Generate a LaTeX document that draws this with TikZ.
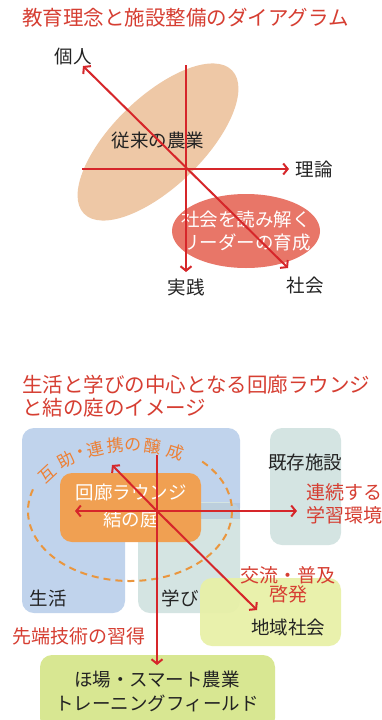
\documentclass[tikz,border=0pt]{standalone}
\usepackage{fontspec}
\setmainfont{Noto Sans CJK JP}
\usetikzlibrary{arrows.meta}
\definecolor{titlered}{RGB}{214,62,50}
\definecolor{arrowred}{RGB}{214,38,42}
\definecolor{tanfill}{RGB}{238,200,166}
\definecolor{salmon}{RGB}{232,118,104}
\definecolor{bluefill}{RGB}{192,211,236}
\definecolor{stripfill}{RGB}{172,194,218}
\definecolor{greyfill}{RGB}{212,228,226}
\definecolor{orangefill}{RGB}{240,160,82}
\definecolor{yellowfill}{RGB}{232,240,166}
\definecolor{greenfill}{RGB}{216,231,146}
\definecolor{dashorange}{RGB}{234,150,62}
\definecolor{txt}{RGB}{35,35,35}
\tikzset{
  x=1pt, y=-1pt,
  axis/.style={draw=arrowred, line width=2pt},
  tip/.style={-{Straight Barb[length=4.5pt,width=11pt]}},
  bothtips/.style={{Straight Barb[length=4.5pt,width=11pt]}-{Straight Barb[length=4.5pt,width=11pt]}},
  lbl/.style={text=txt, font=\fontsize{18.5}{20}\selectfont, inner sep=0pt},
  redlbl/.style={text=titlered, font=\fontsize{19}{23}\selectfont, inner sep=0pt},
  whitelbl/.style={text=white, font=\fontsize{18.5}{23}\selectfont, inner sep=0pt, align=center},
  ttl/.style={text=titlered, font=\fontsize{20.5}{23}\selectfont, inner sep=0pt, anchor=west},
  area/.style={rounded corners=12pt},
}
\begin{document}
\begin{tikzpicture}
\useasboundingbox[fill=white] (0,0) rectangle (382,720);

% ---------- top diagram ----------
\node[ttl] (t1) at (22,18) {教育理念と施設整備のダイアグラム};

\fill[tanfill, rotate around={44:(158,142)}] (158,142) ellipse [x radius=103pt, y radius=45pt];
\fill[salmon] (246,231) ellipse [x radius=74pt, y radius=37pt];

\node[lbl] (trad) at (158,140) {従来の農業};
\node[whitelbl] (leader) at (246,231) {社会を読み解く\\リーダーの育成};

\coordinate (c1) at (186,169);
\coordinate (vtop) at (186,65);
\coordinate (vbot) at (186,272);
\coordinate (hl) at (82,169);
\coordinate (hr) at (289,169);
\coordinate (dtl) at (83,66);
\coordinate (dbr) at (288,268);

\draw[axis] (vtop) -- (c1);
\draw[axis, tip] (c1) -- (vbot);
\draw[axis] (hl) -- (c1);
\draw[axis, tip] (c1) -- (hr);
\draw[axis, bothtips] (dtl) -- (dbr);

\node[lbl] (kojin) at (73,57) {個人};
\node[lbl] (riron) at (314,169) {理論};
\node[lbl] (jissen) at (186,287) {実践};
\node[lbl] (shakai) at (305,285) {社会};

% ---------- bottom diagram ----------
\node[ttl] (t2) at (22,385) {生活と学びの中心となる回廊ラウンジ};
\node[ttl] (t3) at (22,408) {と結の庭のイメージ};

% areas
\fill[bluefill, area] (22,428) -- (240,428) -- (240,520) -- (125,520) -- (125,613) -- (22,613) -- cycle;
\fill[greyfill, area] (138,502) rectangle (240,613);
\fill[stripfill, opacity=0.6] (200,503) rectangle (240,519);
\fill[greyfill, area] (270,428) rectangle (341,545);
\fill[yellowfill, area, opacity=0.92] (200,578) rectangle (341,646);
\fill[greenfill, area] (40,655) rectangle (275,730);
\fill[orangefill, area] (60,473) rectangle (201,542);

% dashed ellipse
\draw[dashorange, line width=2pt, dash pattern=on 7pt off 5pt]
  ([shift={(162:102pt and 70pt)}]130,511) arc [start angle=162, end angle=405, x radius=102pt, y radius=70pt];

% curved text along the ellipse
\foreach \ch/\t [count=\i] in {互/146, 助/130, ・/119.5, 連/110, 携/98.5, の/88, 醸/77, 成/63}{
  \node[text=dashorange!85!red, font=\fontsize{17}{17}\selectfont, inner sep=0pt,
        rotate={atan2(-64*cos(\t), 102*sin(\t))}] (arc\i)
        at ({130+100*cos(\t)}, {510-65*sin(\t)}) {\ch};
}

\node[whitelbl] (lounge) at (131,492) {回廊ラウンジ};
\node[whitelbl] (niwa) at (131,520) {結の庭};

% arrows
\coordinate (c2) at (157,511);
\coordinate (v2top) at (157,455);
\coordinate (v2bot) at (157,665);
\coordinate (h2l) at (75,511);
\coordinate (h2r) at (297,511);
\coordinate (d2tl) at (112,465);
\coordinate (d2br) at (257,610);

\draw[axis] (v2top) -- (c2);
\draw[axis, tip] (c2) -- (v2bot);
\draw[axis, tip] (c2) -- (h2l);
\draw[axis, tip] (c2) -- (h2r);
\draw[axis, tip] (c2) -- (d2tl);
\draw[axis, tip] (c2) -- (d2br);

% labels
\node[lbl] (kizon) at (305,462) {既存施設};
\node[redlbl, anchor=west, align=left] (renzoku) at (306,504) {連続する\\学習環境};
\node[redlbl] (koryu) at (288,575) {交流・普及};
\node[redlbl] (keihatsu) at (288,594) {啓発};
\node[lbl] (chiiki) at (288,627) {地域社会};
\node[lbl] (seikatsu) at (48,598) {生活};
\node[lbl] (manabi) at (180,598) {学び};
\node[redlbl] (sentan) at (79,636) {先端技術の習得};
\node[lbl] (hojo) at (157,679) {ほ場・スマート農業};
\node[lbl] (training) at (157,703) {トレーニングフィールド};
\end{tikzpicture}
\end{document}
